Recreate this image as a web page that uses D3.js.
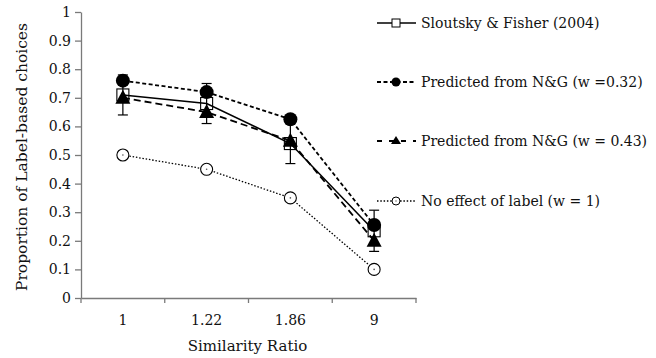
<!DOCTYPE html>
<html><head><meta charset="utf-8">
<script src="https://cdn.jsdelivr.net/npm/d3@7"></script>
<style>body{margin:0;background:#fff}</style>
</head><body>
<svg id="c" width="656" height="358"></svg>
<script>
const categories = ["1", "1.22", "1.86", "9"];
const yTicks = [0,0.1,0.2,0.3,0.4,0.5,0.6,0.7,0.8,0.9,1];
const yTickLabels = ["0","0.1","0.2","0.3","0.4","0.5","0.6","0.7","0.8","0.9","1"];
const sloutsky = [0.71, 0.68, 0.54, 0.235];
const sloutskyErr = [0.07, 0.07, 0.07, 0.072];
const pred032 = [0.76, 0.72, 0.625, 0.255];
const pred043 = [0.70, 0.65, 0.55, 0.20];
const noEffect = [0.50, 0.45, 0.35, 0.10];
const seriesNames = ["Sloutsky & Fisher (2004)", "Predicted from N&G (w =0.32)", "Predicted from N&G (w = 0.43)", "No effect of label (w = 1)"];

const svg = d3.select("#c");
const font = "DejaVu Serif";
const m = {l:81, r:416, t:12, b:298};
const x = d3.scaleBand().domain(categories).range([m.l, m.r]);
const y = d3.scaleLinear().domain([0,1]).range([m.b, m.t]);
const cx = d => x(d) + x.bandwidth()/2;

// axes
const yAx = svg.append("g").attr("transform",`translate(${m.l},0)`)
  .call(d3.axisLeft(y).tickValues(yTicks).tickFormat((d,i)=>yTickLabels[i]).tickSize(6).tickSizeOuter(0));
const xAx = svg.append("g").attr("transform",`translate(0,${m.b})`)
  .call(d3.axisBottom(x).tickSize(0).tickSizeOuter(0));
[yAx,xAx].forEach(a=>{a.select(".domain").attr("stroke","#7a7a7a").attr("stroke-width",1.3);
  a.selectAll(".tick line").attr("stroke","#7a7a7a").attr("stroke-width",1.3);
  a.selectAll("text").attr("font-family",font).attr("font-size",14).attr("fill","#111");});
yAx.selectAll("text").attr("x",-10);
xAx.selectAll("text").attr("y",27).attr("dy",0);
// x boundary ticks
const bounds = categories.map(c=>x(c)).concat([m.r]);
svg.append("g").selectAll("line").data(bounds).join("line")
  .attr("x1",d=>d).attr("x2",d=>d).attr("y1",m.b).attr("y2",m.b+5)
  .attr("stroke","#7a7a7a").attr("stroke-width",1.3);

svg.append("text").attr("transform",`translate(27,${(m.t+m.b)/2+2}) rotate(-90)`)
  .attr("text-anchor","middle").attr("font-family",font).attr("font-size",15.5).attr("fill","#111")
  .text("Proportion of Label-based choices");
svg.append("text").attr("x",(m.l+m.r)/2-1).attr("y",351).attr("text-anchor","middle")
  .attr("font-family",font).attr("font-size",15).attr("fill","#111").text("Similarity Ratio");

const line = d3.line().x((d,i)=>cx(categories[i])).y(d=>y(d));
const styles = [
  {data:sloutsky, dash:null, w:1.6},
  {data:pred032, dash:"4,2.5", w:1.8},
  {data:pred043, dash:"7,4", w:1.8},
  {data:noEffect, dash:"1.5,1.8", w:1.3}
];
// lines
styles.forEach(s=>{
  svg.append("path").datum(s.data).attr("d",line).attr("fill","none")
    .attr("stroke","#000").attr("stroke-width",s.w).attr("stroke-dasharray",s.dash);
});
// error bars
const eb = svg.append("g");
sloutsky.forEach((v,i)=>{
  const X = cx(categories[i]);
  eb.append("line").attr("x1",X).attr("x2",X).attr("y1",y(v+sloutskyErr[i])).attr("y2",y(v-sloutskyErr[i])).attr("stroke","#000").attr("stroke-width",1.2);
  [v+sloutskyErr[i], v-sloutskyErr[i]].forEach(e=>eb.append("line").attr("x1",X-5).attr("x2",X+5).attr("y1",y(e)).attr("y2",y(e)).attr("stroke","#000").attr("stroke-width",1.2));
});

function marker(g, type, X, Y){
  if(type===0) g.append("rect").attr("x",X-6).attr("y",Y-6).attr("width",12).attr("height",12).attr("fill","none").attr("stroke","#000").attr("stroke-width",1.1);
  if(type===1) g.append("circle").attr("cx",X).attr("cy",Y).attr("r",7).attr("fill","#000");
  if(type===2) g.append("path").attr("d",`M${X},${Y-8}L${X+7.5},${Y+6}L${X-7.5},${Y+6}Z`).attr("fill","#000");
  if(type===3) g.append("circle").attr("cx",X).attr("cy",Y).attr("r",6).attr("fill","#fff").attr("stroke","#000").attr("stroke-width",1.1);
}
const mk = svg.append("g");
[3,0,1,2].forEach(t=>{
  styles[t].data.forEach((v,i)=>marker(mk,t,cx(categories[i]),y(v)));
});
// dots in open circles
noEffect.forEach((v,i)=>mk.append("circle").attr("cx",cx(categories[i])).attr("cy",y(v)).attr("r",0.8).attr("fill","#555"));

// legend
const lg = svg.append("g");
const legY = [23, 82, 141, 201];
seriesNames.forEach((n,i)=>{
  const Y = legY[i];
  lg.append("line").attr("x1",377).attr("x2",416).attr("y1",Y).attr("y2",Y).attr("stroke","#000")
    .attr("stroke-width",styles[i].w).attr("stroke-dasharray",i===2?"5,7":styles[i].dash);
  if(i===0) lg.append("rect").attr("x",392).attr("y",Y-4).attr("width",8).attr("height",8).attr("fill","#fff").attr("stroke","#000").attr("stroke-width",1);
  if(i===1) lg.append("circle").attr("cx",396).attr("cy",Y).attr("r",4.5).attr("fill","#000");
  if(i===2) lg.append("path").attr("d",`M396,${Y-5}L401,${Y+3}L391,${Y+3}Z`).attr("fill","#000");
  if(i===3){ lg.append("circle").attr("cx",396).attr("cy",Y).attr("r",4).attr("fill","#fff").attr("stroke","#000").attr("stroke-width",1);
    lg.append("circle").attr("cx",396).attr("cy",Y).attr("r",0.7).attr("fill","#555"); }
  lg.append("text").attr("x",421).attr("y",Y+5).attr("font-family",font).attr("font-size",14).attr("fill","#111").text(n);
});
</script>
</body></html>
